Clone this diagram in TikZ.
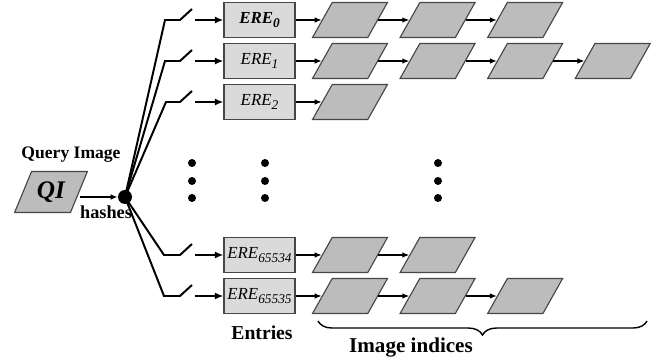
\documentclass[tikz,border=0pt]{standalone}
\usepackage{fontspec}
\setmainfont{Liberation Serif}
\usetikzlibrary{shapes.geometric,arrows.meta,positioning,decorations.pathreplacing}
\definecolor{boxgray}{RGB}{218,218,218}
\definecolor{paragray}{RGB}{188,188,188}
\definecolor{edgegray}{RGB}{70,70,70}
\newcommand{\ereidx}[1]{\raisebox{-0.5ex}{\fontsize{9.5}{10}\selectfont #1}}
\tikzset{
	erebox/.style = {rectangle,draw=edgegray,fill=boxgray,line width=0.8pt,
		minimum width=1.775cm,minimum height=0.875cm,inner sep=0pt,
		font=\fontsize{12}{14}\selectfont\itshape},
	para/.style   = {trapezium,trapezium left angle=61,trapezium right angle=119,
		trapezium stretches=true,draw=edgegray,fill=paragray,line width=0.8pt,
		minimum width=1.875cm,minimum height=0.875cm,inner sep=2pt},
	hubdot/.style = {circle,fill=black,minimum size=0.35cm,inner sep=0pt},
	vdot/.style   = {circle,fill=black,minimum size=0.2cm,inner sep=0pt},
	lbl/.style    = {inner sep=0pt,font=\bfseries},
	wire/.style   = {line width=1.4pt,black},
	arr/.style    = {-{Latex[length=5pt,width=4pt]},line width=0.9pt},
	sarr/.style   = {-{Latex[length=6pt,width=5pt]},line width=1.4pt},
}

\begin{document}
\begin{tikzpicture}[x=0.025cm,y=-0.025cm]
	\useasboundingbox (0,0) rectangle (660,359);
	
	%% query image and hash point
	\node (qi) [para,minimum width=1.825cm,minimum height=1.025cm,
	font=\fontsize{18}{20}\selectfont\bfseries\itshape] at (51,192) {QI};
	\node (hub) [hubdot] at (125,197) {};
	\node (qlbl) [lbl,font=\fontsize{12.5}{14}\selectfont\bfseries] at (71,155) {Query Image};
	\node (hlbl) [lbl,font=\fontsize{13}{14}\selectfont\bfseries] at (106,212) {hashes};
	\draw[arr,line width=1.1pt] (qi.east |- hub) -- (hub);
	
	%% entries
	\node (e0) [erebox] at (259.5,20) {\bfseries ERE\ereidx{0}};
	\node (e1) [erebox] at (259.5,61) {ERE\ereidx{1}};
	\node (e2) [erebox] at (259.5,102) {ERE\ereidx{2}};
	\node (e3) [erebox] at (259.5,255) {ERE\ereidx{65534}};
	\node (e4) [erebox] at (259.5,296) {ERE\ereidx{65535}};
	
	%% switches
	\coordinate (k0) at (165,20);  \coordinate (m0) at (180,20);  \coordinate (t0) at (192,9);   \coordinate (s0) at (195,20);
	\coordinate (k1) at (165,61);  \coordinate (m1) at (180,61);  \coordinate (t1) at (192,50);  \coordinate (s1) at (195,61);
	\coordinate (k2) at (166,102); \coordinate (m2) at (180,102); \coordinate (t2) at (192,91);  \coordinate (s2) at (195,102);
	\coordinate (k3) at (164,255); \coordinate (m3) at (180,255); \coordinate (t3) at (192,244); \coordinate (s3) at (195,255);
	\coordinate (k4) at (164,296); \coordinate (m4) at (180,296); \coordinate (t4) at (192,285); \coordinate (s4) at (195,296);
	
	\draw[wire] (hub.center) -- (k0) -- (m0) -- (t0);
	\draw[wire] (hub.center) -- (k1) -- (m1) -- (t1);
	\draw[wire] (hub.center) -- (k2) -- (m2) -- (t2);
	\draw[wire] (hub.center) -- (k3) -- (m3) -- (t3);
	\draw[wire] (hub.center) -- (k4) -- (m4) -- (t4);
	\draw[sarr] (s0) -- (e0);
	\draw[sarr] (s1) -- (e1);
	\draw[sarr] (s2) -- (e2);
	\draw[sarr] (s3) -- (e3);
	\draw[sarr] (s4) -- (e4);
	
	%% image indices
	\node (p01) [para] at (350,20) {};
	\node (p02) [para,right=0.775cm of p01] {};
	\node (p03) [para,right=0.775cm of p02] {};
	\node (p11) [para] at (350,61) {};
	\node (p12) [para,right=0.775cm of p11] {};
	\node (p13) [para,right=0.775cm of p12] {};
	\node (p14) [para,right=0.775cm of p13] {};
	\node (p21) [para] at (350,102) {};
	\node (p31) [para] at (350,255) {};
	\node (p32) [para,right=0.775cm of p31] {};
	\node (p41) [para] at (350,296) {};
	\node (p42) [para,right=0.775cm of p41] {};
	\node (p43) [para,right=0.775cm of p42] {};
	
	\draw[arr] (e0) -- (p01); \draw[arr] (p01) -- (p02); \draw[arr] (p02) -- (p03);
	\draw[arr] (e1) -- (p11); \draw[arr] (p11) -- (p12); \draw[arr] (p12) -- (p13);
	\draw[arr] (p13) -- (p14);
	\draw[arr] (e2) -- (p21);
	\draw[arr] (e3) -- (p31); \draw[arr] (p31) -- (p32);
	\draw[arr] (e4) -- (p41); \draw[arr] (p41) -- (p42); \draw[arr] (p42) -- (p43);
	
	%% vertical ellipses
	\node (d11) [vdot] at (192,163) {}; \node (d12) [vdot] at (192,181) {}; \node (d13) [vdot] at (192,198) {};
	\node (d21) [vdot] at (265,163) {}; \node (d22) [vdot] at (265,181) {}; \node (d23) [vdot] at (265,198) {};
	\node (d31) [vdot] at (438,163) {}; \node (d32) [vdot] at (438,181) {}; \node (d33) [vdot] at (438,198) {};
	
	%% captions
	\coordinate (bl) at (318,321);
	\coordinate (br) at (647,321);
	\draw[decorate,decoration={brace,amplitude=10pt,mirror},line width=1pt] (bl) -- (br);
	\node (elbl) [lbl,font=\fontsize{14}{16}\selectfont\bfseries] at (262,333) {Entries};
	\node (ilbl) [lbl,font=\fontsize{15}{17}\selectfont\bfseries] at (411,348) {Image indices};
\end{tikzpicture}
\end{document}
